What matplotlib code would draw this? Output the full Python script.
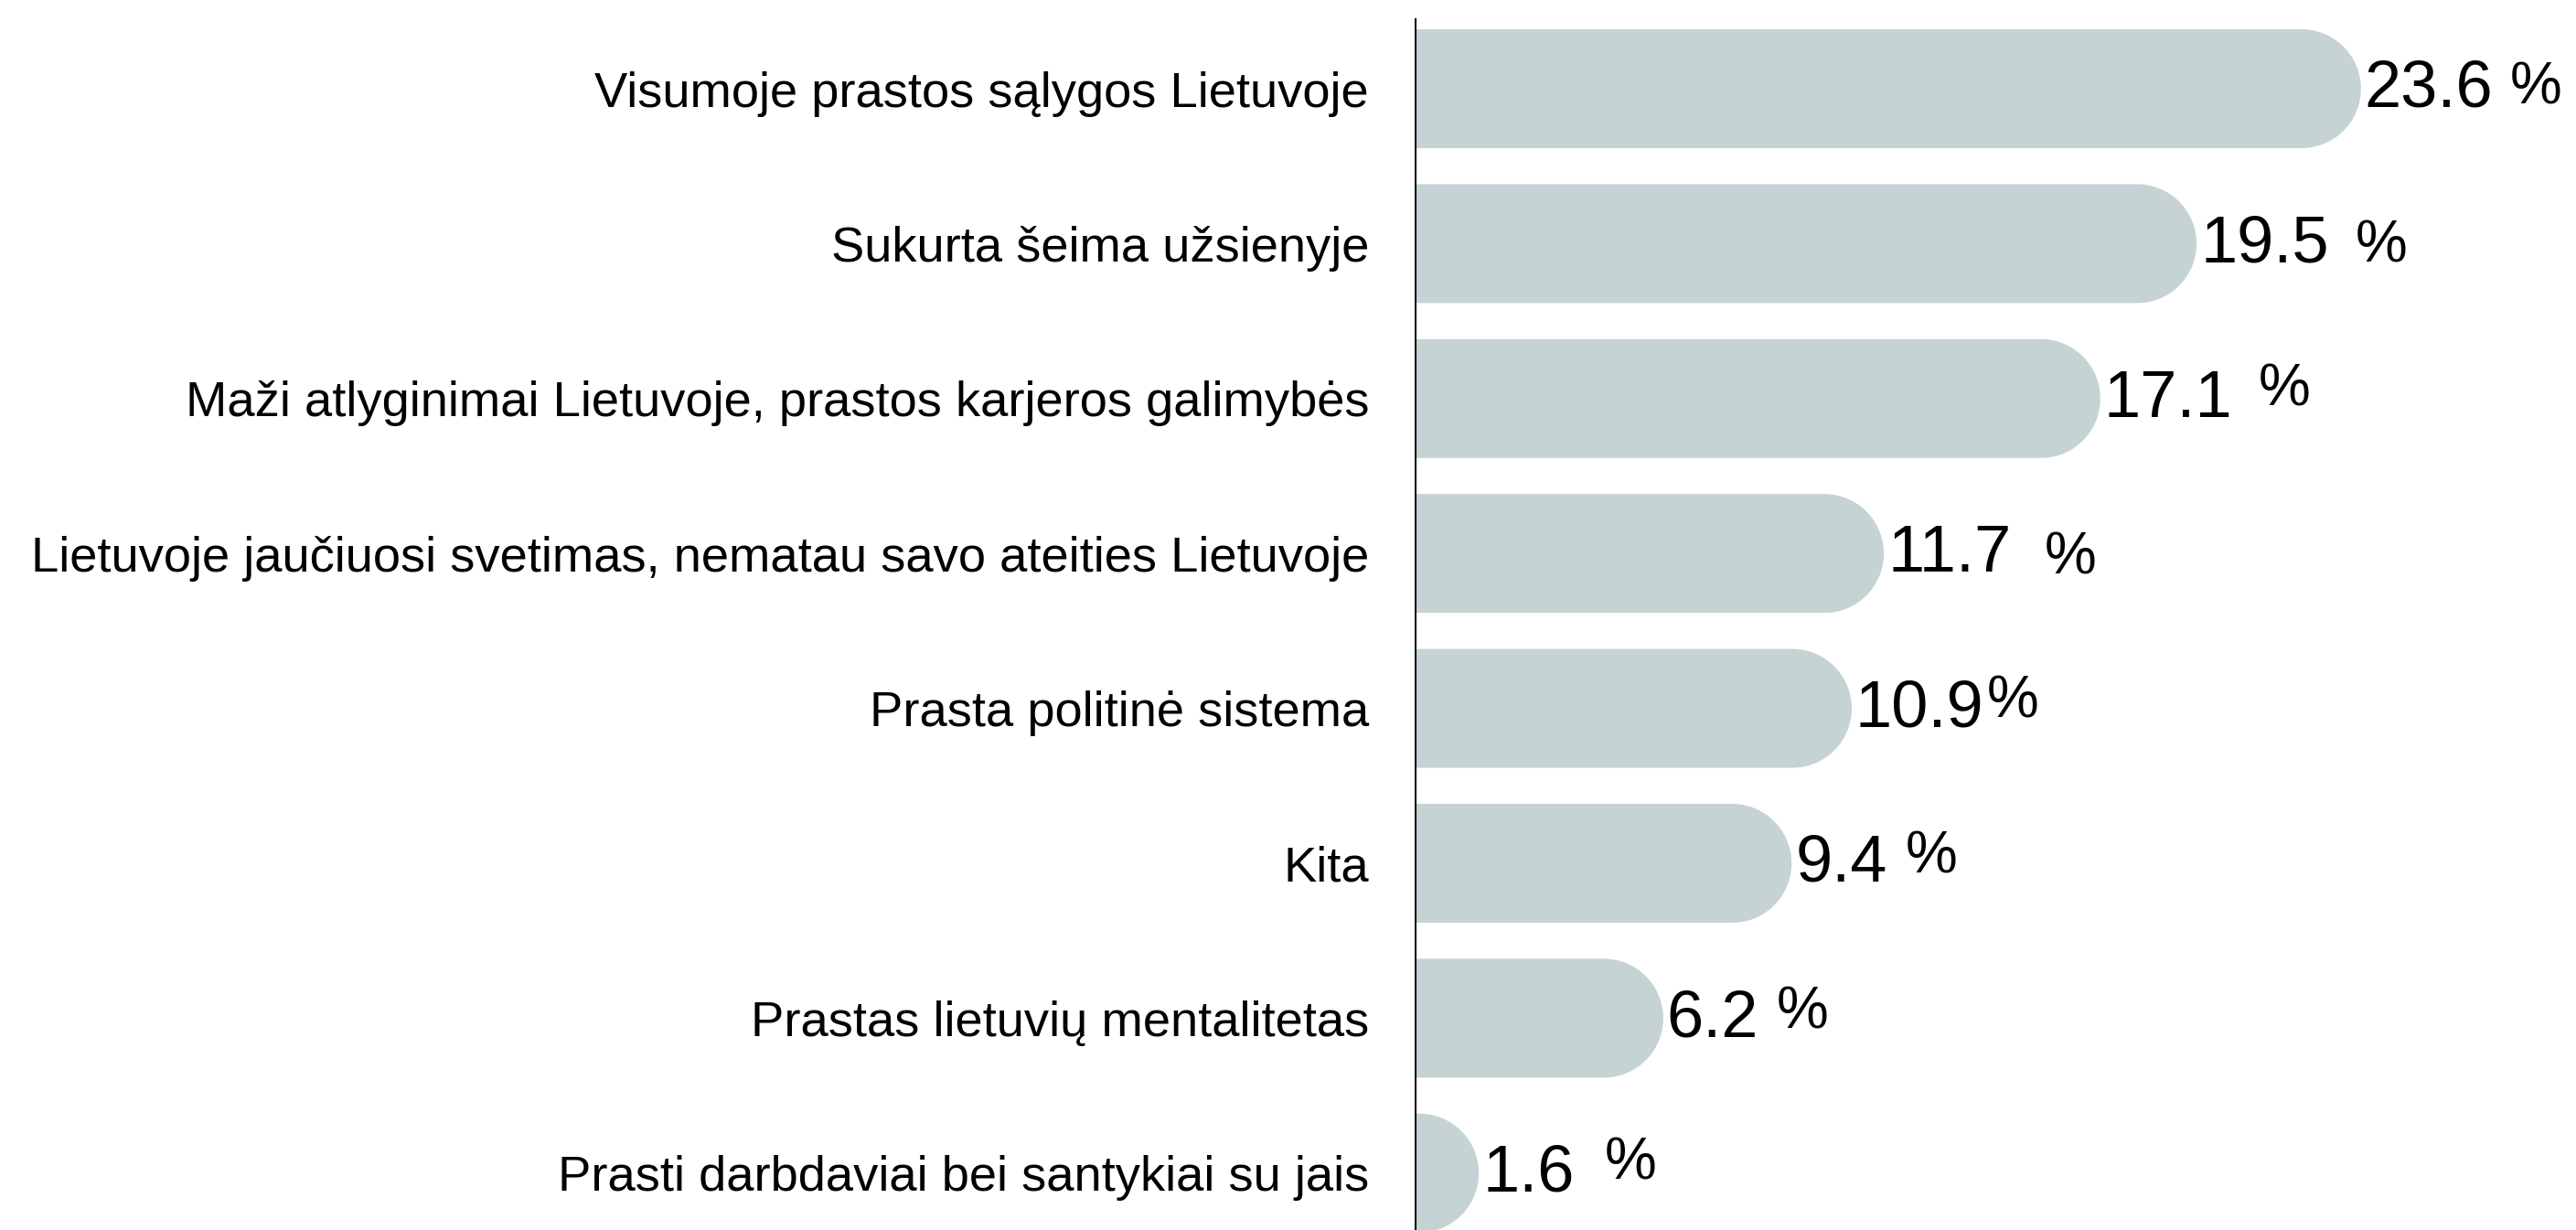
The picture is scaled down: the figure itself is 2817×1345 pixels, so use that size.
import numpy as np
import matplotlib
matplotlib.use("Agg")
import matplotlib.pyplot as plt
from matplotlib.patches import Polygon

# data, top to bottom
categories = [
    "Visumoje prastos sąlygos Lietuvoje",
    "Sukurta šeima užsienyje",
    "Maži atlyginimai Lietuvoje, prastos karjeros galimybės",
    "Lietuvoje jaučiuosi svetimas, nematau savo ateities Lietuvoje",
    "Prasta politinė sistema",
    "Kita",
    "Prastas lietuvių mentalitetas",
    "Prasti darbdaviai bei santykiai su jais",
]
values = [23.6, 19.5, 17.1, 11.7, 10.9, 9.4, 6.2, 1.6]
value_labels = ["23.6", "19.5", "17.1", "11.7", "10.9", "9.4", "6.2", "1.6"]

# placement of the "%" sign after each number (gap, raise), in pixels
pct_gap = [18, 29, 28, 36, 3, 20, 20, 33]
pct_raise = [1.5, -2, 10.5, -4, 8.5, 7.5, 7, 12]

BAR_COLOR = "#c5d3d4"
FONT = "Liberation Sans"
DPI = 100
W, H = 2817, 1345

fig = plt.figure(figsize=(W / DPI, H / DPI), dpi=DPI)
axis_x = 1547
ax = fig.add_axes([axis_x / W, 0, 1 - axis_x / W, 1])

px_per_unit = 43.85
row_px = 169.4
first_row_px = 97
bar_h = 130 / row_px

ax.set_xlim(0, (W - axis_x) / px_per_unit)
ax.set_ylim((H - first_row_px) / row_px, -first_row_px / row_px)
for s in ax.spines.values():
    s.set_visible(False)
ax.set_xticks([])

# rounded right end: half-ellipse in data units that looks like a semicircle
rx = (bar_h / 2) * row_px / px_per_unit
t = np.linspace(-np.pi / 2, np.pi / 2, 60)
for i, v in enumerate(values):
    r = min(rx, v)
    x0 = v - r
    arc = np.column_stack([x0 + r * np.cos(t), i + (bar_h / 2) * np.sin(t)])
    pts = np.vstack([[0, i - bar_h / 2], arc, [0, i + bar_h / 2]])
    ax.add_patch(Polygon(pts, closed=True, facecolor=BAR_COLOR, edgecolor="none"))

# vertical axis line
ax.axvline(0, ymin=0, ymax=(H - 21) / H, color="black", lw=2.2)

ax.set_yticks(range(len(categories)))
ax.set_yticklabels(categories, fontsize=39.2, family=FONT)
ax.tick_params(axis="y", length=0, pad=50 * 72 / DPI)

for i, v in enumerate(values):
    num = ax.annotate(value_labels[i], xy=(v, i), xytext=(4 * 72 / DPI, -1),
                      textcoords="offset points", ha="left", va="center",
                      fontsize=52, family=FONT)
    ax.annotate("%", xy=(1, 0.5), xycoords=num,
                xytext=(pct_gap[i] * 72 / DPI, pct_raise[i] * 72 / DPI),
                textcoords="offset points", ha="left", va="center",
                fontsize=46, family=FONT)

fig.savefig("out.png", dpi=DPI)
